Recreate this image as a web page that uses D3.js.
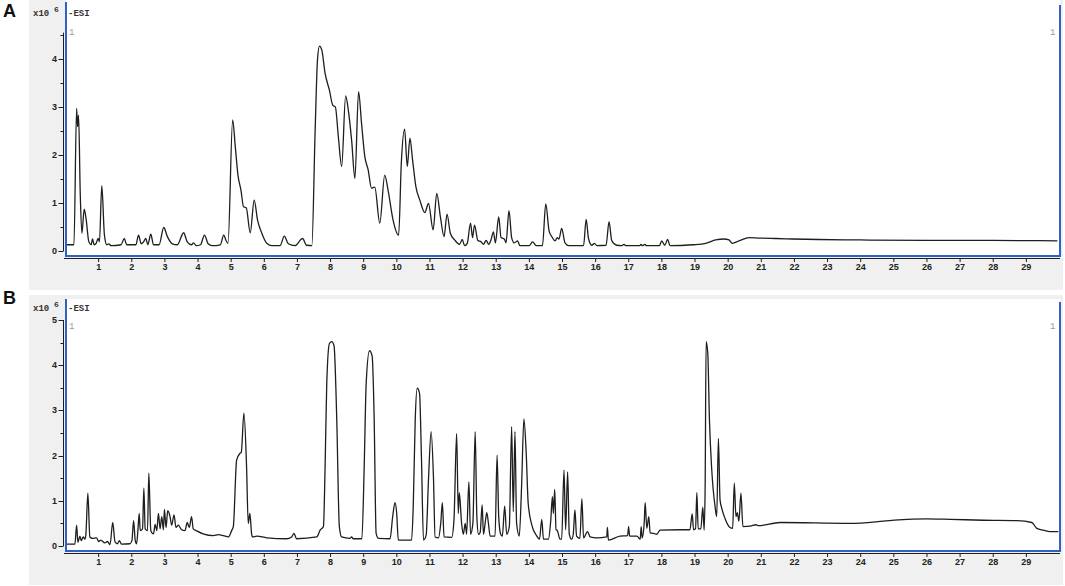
<!DOCTYPE html>
<html><head><meta charset="utf-8">
<script src="https://cdn.jsdelivr.net/npm/d3@7"></script>
<style>body{margin:0;background:#fff}svg{display:block}</style>
</head><body><svg id="c" width="1065" height="586"></svg>
<script>
// ---------- DATA (retention time in min, intensity in x10^6) ----------
const timeA = [0.05,0.27,0.35,0.38,0.41,0.46,0.51,0.58,0.64,0.72,0.79,0.83,0.88,0.94,1.00,1.04,1.11,1.19,1.26,1.32,1.39,1.69,1.79,1.86,2.14,2.22,2.30,2.37,2.44,2.50,2.59,2.67,2.84,2.98,3.09,3.24,3.39,3.58,3.69,3.82,3.88,3.96,4.09,4.21,4.32,4.44,4.69,4.79,4.86,4.92,5.06,5.14,5.22,5.31,5.39,5.47,5.59,5.71,5.81,5.94,6.09,6.24,6.49,6.62,6.74,6.94,7.17,7.29,7.45,7.55,7.62,7.68,7.75,7.85,7.98,8.08,8.16,8.25,8.35,8.47,8.55,8.65,8.75,8.86,8.95,9.05,9.15,9.25,9.35,9.50,9.65,9.75,9.90,10.07,10.15,10.25,10.33,10.41,10.49,10.59,10.71,10.86,10.97,11.11,11.22,11.33,11.44,11.53,11.63,11.76,11.91,11.99,12.06,12.14,12.24,12.30,12.36,12.46,12.56,12.63,12.71,12.79,12.86,12.93,12.99,13.09,13.16,13.26,13.31,13.40,13.48,13.56,13.66,13.73,14.01,14.11,14.23,14.41,14.51,14.61,14.71,14.79,14.86,14.91,14.99,15.09,15.21,15.65,15.73,15.80,15.90,15.98,16.05,16.33,16.42,16.50,16.65,16.80,16.87,16.93,17.35,17.38,17.43,17.50,17.55,17.94,18.01,18.10,18.19,18.26,18.94,19.34,19.64,19.89,20.04,20.14,20.34,20.65,20.95,21.45,21.95,22.75,24.0,26.0,28.0,29.95];
const intensityA = [0.13,0.13,2.97,2.59,2.83,1.20,0.37,0.87,0.65,0.19,0.13,0.25,0.13,0.16,0.26,0.19,1.36,0.33,0.13,0.15,0.11,0.13,0.26,0.13,0.13,0.33,0.15,0.19,0.26,0.13,0.35,0.13,0.13,0.49,0.30,0.15,0.13,0.38,0.19,0.13,0.17,0.11,0.13,0.33,0.15,0.11,0.13,0.33,0.22,0.16,2.73,2.17,1.58,1.27,0.92,0.90,0.38,1.06,0.65,0.37,0.16,0.11,0.11,0.31,0.15,0.11,0.26,0.12,0.11,2.52,3.98,4.27,4.19,3.70,3.35,3.04,3.00,2.38,1.76,3.23,2.94,2.31,1.51,3.32,2.66,1.96,1.69,1.31,1.33,0.58,1.58,1.27,0.65,0.33,1.83,2.54,1.76,2.35,1.90,1.34,1.06,0.80,0.99,0.44,1.20,0.71,0.30,0.77,0.37,0.23,0.14,0.24,0.11,0.16,0.58,0.28,0.54,0.22,0.19,0.14,0.22,0.14,0.24,0.40,0.17,0.71,0.28,0.25,0.17,0.84,0.28,0.17,0.21,0.11,0.11,0.19,0.11,0.11,0.98,0.42,0.28,0.21,0.28,0.25,0.47,0.17,0.11,0.11,0.66,0.26,0.12,0.16,0.11,0.12,0.61,0.22,0.12,0.11,0.14,0.11,0.11,0.14,0.11,0.14,0.11,0.11,0.21,0.12,0.24,0.11,0.13,0.16,0.23,0.25,0.23,0.16,0.21,0.28,0.27,0.26,0.25,0.24,0.23,0.22,0.22,0.21];

const timeB = [0.05,0.30,0.35,0.39,0.45,0.49,0.55,0.60,0.63,0.69,0.75,0.83,0.95,1.02,1.08,1.20,1.28,1.36,1.44,1.51,1.58,1.64,1.71,1.96,2.02,2.07,2.12,2.16,2.20,2.24,2.27,2.34,2.38,2.42,2.49,2.53,2.59,2.67,2.72,2.77,2.82,2.87,2.92,2.97,3.00,3.05,3.10,3.17,3.22,3.29,3.35,3.42,3.52,3.62,3.69,3.75,3.82,3.87,3.99,4.17,4.48,4.63,4.78,4.93,5.03,5.08,5.18,5.28,5.32,5.40,5.48,5.53,5.58,5.63,5.66,5.79,6.09,6.69,6.84,6.91,6.99,7.60,7.70,7.80,7.85,7.90,7.98,8.05,8.12,8.20,8.28,8.35,8.60,8.65,8.70,8.96,9.03,9.09,9.19,9.27,9.33,9.39,9.46,9.81,9.89,9.96,10.01,10.06,10.46,10.51,10.57,10.63,10.70,10.76,10.82,10.90,10.97,11.05,11.12,11.17,11.27,11.34,11.39,11.44,11.67,11.74,11.82,11.87,11.90,11.97,12.02,12.08,12.12,12.19,12.24,12.31,12.38,12.43,12.48,12.53,12.59,12.63,12.68,12.73,12.78,12.83,12.98,13.04,13.09,13.15,13.20,13.27,13.33,13.41,13.48,13.53,13.58,13.63,13.71,13.78,13.85,13.92,13.98,14.09,14.24,14.32,14.39,14.44,14.59,14.66,14.71,14.74,14.78,14.82,14.86,14.94,14.99,15.06,15.11,15.17,15.22,15.29,15.34,15.39,15.44,15.54,15.60,15.65,15.77,15.85,16.05,16.35,16.37,16.40,16.75,16.98,17.01,17.04,17.26,17.36,17.39,17.42,17.48,17.51,17.56,17.62,17.66,17.76,17.86,17.96,18.56,18.86,18.93,18.97,19.03,19.07,19.11,19.19,19.25,19.29,19.32,19.35,19.40,19.45,19.52,19.62,19.67,19.72,19.77,19.82,19.92,20.07,20.15,20.20,20.25,20.29,20.34,20.40,20.46,20.68,20.86,20.93,21.58,23.69,24.70,25.15,26.00,26.71,27.72,28.73,29.18,29.33,29.53,29.73,29.98];
const intensityB = [0.04,0.04,0.46,0.08,0.22,0.12,0.20,0.15,0.25,1.17,0.20,0.17,0.18,0.10,0.13,0.07,0.10,0.03,0.52,0.09,0.05,0.12,0.04,0.05,0.12,0.56,0.12,0.05,0.34,0.72,0.34,0.38,1.28,0.38,0.34,1.61,0.34,0.27,0.48,0.34,0.72,0.38,0.65,0.36,0.81,0.41,0.78,0.65,0.46,0.69,0.41,0.46,0.36,0.34,0.52,0.41,0.65,0.38,0.33,0.27,0.23,0.25,0.23,0.20,0.34,0.43,1.90,2.05,2.07,2.94,1.75,0.50,0.72,0.28,0.20,0.22,0.18,0.16,0.20,0.28,0.16,0.20,0.35,0.43,1.75,3.60,4.48,4.52,4.43,2.86,0.43,0.20,0.17,0.20,0.16,0.16,1.75,3.60,4.32,4.20,2.86,0.28,0.17,0.16,0.65,0.96,0.73,0.13,0.13,0.87,2.79,3.49,3.38,1.90,0.13,0.24,1.46,2.53,1.53,0.20,0.18,0.50,0.96,0.20,0.19,0.58,2.49,0.72,1.18,0.50,0.26,0.50,0.26,1.42,0.26,0.50,2.53,0.65,0.26,0.30,0.91,0.26,0.50,0.74,0.50,0.22,0.22,2.01,0.65,0.26,0.22,0.88,0.26,0.43,2.64,0.76,2.53,0.50,0.22,1.31,2.81,2.05,0.94,0.46,0.22,0.15,0.59,0.15,0.15,0.56,1.09,0.72,1.25,0.36,0.34,0.15,0.15,1.68,0.36,1.64,0.26,0.15,0.26,0.80,0.22,0.17,1.05,0.18,0.32,0.20,0.18,0.20,0.41,0.13,0.22,0.23,0.43,0.22,0.22,0.15,0.43,0.18,0.50,0.96,0.39,0.65,0.29,0.28,0.26,0.35,0.36,0.36,0.71,0.36,0.38,1.18,0.38,0.38,0.86,0.35,1.30,4.52,4.26,2.79,1.68,0.87,0.65,2.38,1.02,0.84,0.61,0.41,0.39,1.39,0.65,0.74,0.55,1.17,0.43,0.44,0.47,0.45,0.52,0.50,0.55,0.58,0.60,0.59,0.57,0.56,0.52,0.39,0.35,0.32,0.32];

const panelLabels = ["A", "B"];
const xTickValues = d3.range(1, 30);
const yTicksA = [0, 1, 2, 3, 4];
const yTicksB = [0, 1, 2, 3, 4, 5];
const scaleText = "x10", scaleExp = "6", modeText = "-ESI", traceNo = "1";

// ---------- DRAWING ----------
const svg = d3.select("#c");
const BLUE = "#2f62c8", GRAY = "#f0f0f0", INK = "#1e1e1e";

const panels = [
  {label: panelLabels[0], t: timeA, v: intensityA, yTicks: yTicksA, yMaxAxis: 4.55,
   grayY: 0, grayH: 290, plotTop: 0, plotBottom: 256, y0: 251, yTopVal: 4, yTopPx: 59,
   axisY: 258, labelBase: 17, textBase: 16, oneBase: 35, blueTop: 2},
  {label: panelLabels[1], t: timeB, v: intensityB, yTicks: yTicksB, yMaxAxis: 5,
   grayY: 295, grayH: 290, plotTop: 299, plotBottom: 551, y0: 546, yTopVal: 5, yTopPx: 320,
   axisY: 553, labelBase: 304, textBase: 311, oneBase: 329, blueTop: 299}
];

const x = d3.scaleLinear().domain([0, 30]).range([65, 1059]);

panels.forEach(p => {
  const g = svg.append("g");
  const y = d3.scaleLinear().domain([0, p.yTopVal]).range([p.y0, p.yTopPx]);

  g.append("rect").attr("x", 29).attr("y", p.grayY).attr("width", 1034).attr("height", p.grayH).attr("fill", GRAY);
  g.append("rect").attr("x", 66).attr("y", p.plotTop).attr("width", 994).attr("height", p.plotBottom - p.plotTop).attr("fill", "#fff");

  svg.append("text").attr("x", 3).attr("y", p.labelBase).text(p.label)
    .attr("font-family", "Liberation Sans, Arial, sans-serif").attr("font-weight", "bold")
    .attr("font-size", 18).attr("fill", "#111");

  const yAxisX = 63.5;
  g.append("line").attr("x1", yAxisX).attr("x2", yAxisX).attr("y1", y(0)).attr("y2", y(p.yMaxAxis))
    .attr("stroke", INK).attr("stroke-width", 1);
  const minor = d3.range(0.5, p.yMaxAxis + 0.01, 1);
  g.selectAll(".mn").data(minor).enter().append("line")
    .attr("x1", yAxisX - 3).attr("x2", yAxisX).attr("y1", d => Math.round(y(d)) + 0.5).attr("y2", d => Math.round(y(d)) + 0.5)
    .attr("stroke", INK);
  g.selectAll(".mj").data(p.yTicks).enter().append("line")
    .attr("x1", yAxisX - 5).attr("x2", yAxisX).attr("y1", d => Math.round(y(d)) + 0.5).attr("y2", d => Math.round(y(d)) + 0.5)
    .attr("stroke", INK);
  g.selectAll(".yl").data(p.yTicks).enter().append("text")
    .attr("x", 57).attr("y", d => y(d) + 3).attr("text-anchor", "end")
    .attr("font-family", "Liberation Sans, Arial, sans-serif").attr("font-size", 9).attr("font-weight", "bold")
    .attr("fill", "#222").text(d => d);

  const xa = g.append("g").attr("transform", `translate(0,${p.axisY})`)
    .call(d3.axisBottom(x).tickValues(xTickValues).tickSize(4).tickPadding(2).tickFormat(d3.format("d")));
  xa.select(".domain").attr("d", `M64,0.5H1060`).attr("stroke", INK);
  xa.selectAll(".tick line").attr("stroke", INK);
  xa.selectAll(".tick text").attr("font-family", "Liberation Sans, Arial, sans-serif")
    .attr("font-size", 9).attr("font-weight", "bold").attr("fill", "#222");

  const pts = p.t.map((t, i) => [t, p.v[i]]);
  g.append("path").datum(pts)
    .attr("d", d3.line().curve(d3.curveMonotoneX).x(d => x(d[0])).y(d => y(d[1])))
    .attr("fill", "none").attr("stroke", INK).attr("stroke-width", 1.3).attr("stroke-linejoin", "round");

  g.append("line").attr("x1", 66).attr("x2", 66).attr("y1", p.blueTop).attr("y2", p.plotBottom).attr("stroke", BLUE).attr("stroke-width", 2);
  g.append("line").attr("x1", 65).attr("x2", 1061).attr("y1", p.plotBottom).attr("y2", p.plotBottom).attr("stroke", BLUE).attr("stroke-width", 2);
  g.append("line").attr("x1", 1060).attr("x2", 1060).attr("y1", p.blueTop + 3).attr("y2", p.plotBottom).attr("stroke", BLUE).attr("stroke-width", 2);

  const mono = "Liberation Mono, DejaVu Sans Mono, monospace";
  g.append("text").attr("x", 33).attr("y", p.textBase).text(scaleText)
    .attr("font-family", mono).attr("font-size", 9).attr("font-weight", "bold").attr("fill", "#333");
  g.append("text").attr("x", 54).attr("y", p.textBase - 4).text(scaleExp)
    .attr("font-family", mono).attr("font-size", 8).attr("font-weight", "bold").attr("fill", "#333");
  g.append("text").attr("x", 68).attr("y", p.textBase).text(modeText)
    .attr("font-family", mono).attr("font-size", 9).attr("font-weight", "bold").attr("fill", "#333");
  g.append("text").attr("x", 69).attr("y", p.oneBase).text(traceNo)
    .attr("font-family", mono).attr("font-size", 9).attr("fill", "#999");
  g.append("text").attr("x", 1050).attr("y", p.oneBase).text(traceNo)
    .attr("font-family", mono).attr("font-size", 9).attr("fill", "#999");
});
</script></body></html>
